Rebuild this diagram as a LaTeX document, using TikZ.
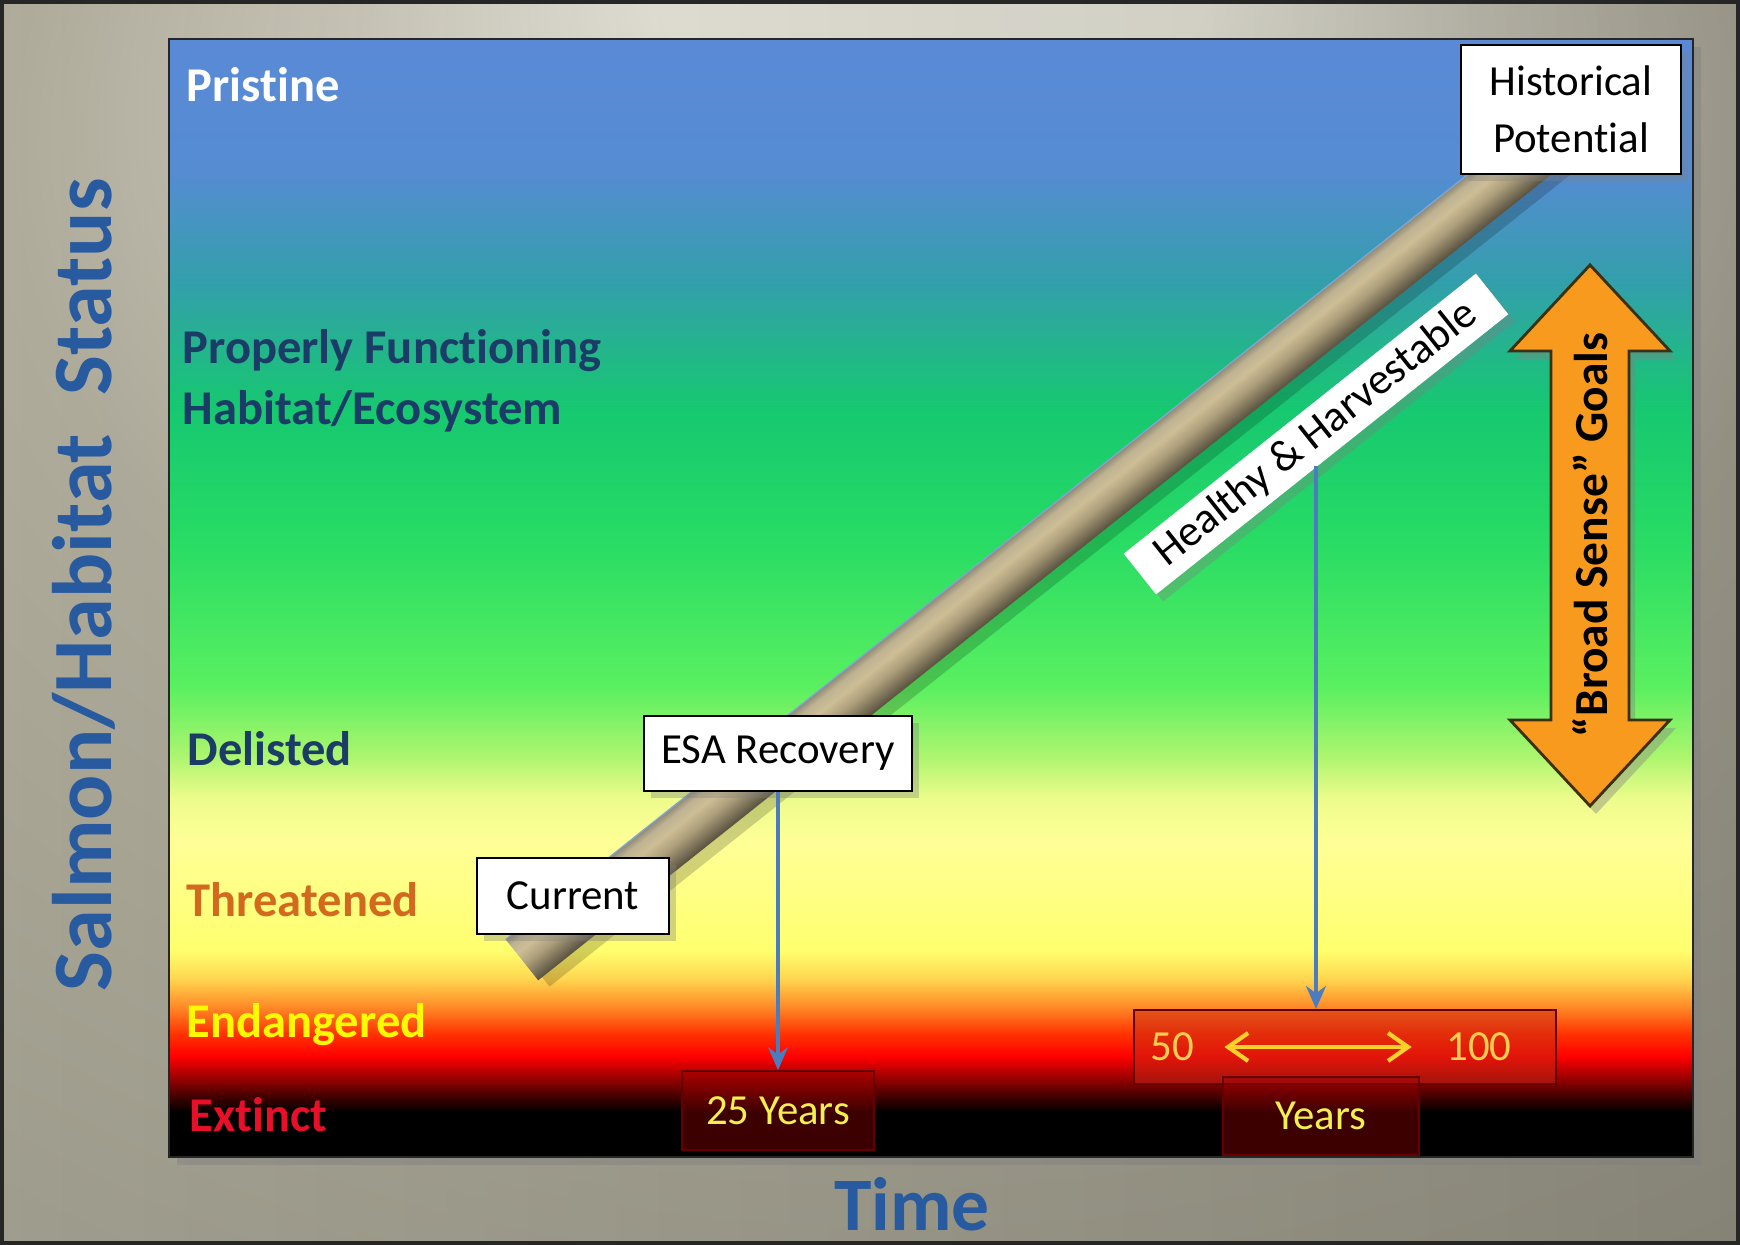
\documentclass[tikz,border=0pt]{standalone}
\usepackage{fontspec}
\setmainfont{Carlito}[Ligatures=CommonOff]
\usetikzlibrary{arrows.meta, shadows, calc, fadings}
\usetikzlibrary{positioning}

% backdrop greys
\definecolor{bgA}{RGB}{236,234,222}
\definecolor{bgB}{RGB}{205,202,188}
\definecolor{bgC}{RGB}{176,172,156}
\definecolor{bgD}{RGB}{160,158,142}
\definecolor{bgE}{RGB}{140,138,124}
% status bands, bottom to top
\definecolor{bandK}{RGB}{0,0,0}
\definecolor{bandDR}{RGB}{70,0,0}
\definecolor{bandR}{RGB}{255,0,0}
\definecolor{bandRO}{RGB}{255,50,0}
\definecolor{bandO}{RGB}{255,140,40}
\definecolor{bandOY}{RGB}{255,215,80}
\definecolor{bandY}{RGB}{255,255,110}
\definecolor{bandPY}{RGB}{255,255,150}
\definecolor{bandYG}{RGB}{238,252,140}
\definecolor{bandLG}{RGB}{170,245,110}
\definecolor{bandBG}{RGB}{90,240,96}
\definecolor{bandG}{RGB}{40,220,100}
\definecolor{bandDG}{RGB}{22,200,112}
\definecolor{bandT}{RGB}{50,160,170}
\definecolor{bandSB}{RGB}{85,140,210}
\definecolor{bandB}{RGB}{90,138,214}
% rod
\definecolor{rodA}{RGB}{88,80,62}
\definecolor{rodB}{RGB}{122,112,88}
\definecolor{rodC}{RGB}{172,158,122}
\definecolor{rodD}{RGB}{205,190,150}
\definecolor{rodE}{RGB}{190,178,146}
\definecolor{rodF}{RGB}{145,138,116}
% text and arrows
\definecolor{navytext}{RGB}{27,60,102}
\definecolor{axisblue}{RGB}{40,90,160}
\definecolor{threatorange}{RGB}{210,105,30}
\definecolor{endyellow}{RGB}{255,250,0}
\definecolor{extinctred}{RGB}{232,16,40}
\definecolor{steel}{RGB}{75,125,190}
\definecolor{goalorange}{RGB}{247,154,30}
\definecolor{goaledge}{RGB}{60,48,16}
\definecolor{yearyellow}{RGB}{242,240,80}
\definecolor{spanyellow}{RGB}{255,208,40}
\definecolor{spannum}{RGB}{255,205,80}

\pgfdeclareradialshading{backdrop}{\pgfpoint{2bp}{30bp}}{color(0bp)=(bgA); color(8bp)=(bgA); color(16bp)=(bgB); color(26bp)=(bgC); color(42bp)=(bgD); color(70bp)=(bgE)}
\pgfdeclareverticalshading{statusbands}{100bp}{color(0bp)=(bandK); color(27bp)=(bandK); color(27.75bp)=(bandDR); color(29.5bp)=(bandR); color(30.5bp)=(bandRO); color(31.75bp)=(bandO); color(33bp)=(bandOY); color(34.25bp)=(bandY); color(39bp)=(bandPY); color(41bp)=(bandYG); color(43bp)=(bandLG); color(46bp)=(bandBG); color(52.5bp)=(bandG); color(58.5bp)=(bandDG); color(64bp)=(bandT); color(69bp)=(bandSB); color(75bp)=(bandB); color(100bp)=(bandB)}
\pgfdeclareverticalshading{rodshade}{100bp}{color(0bp)=(rodA); color(25bp)=(rodA); color(33bp)=(rodB); color(45bp)=(rodC); color(58bp)=(rodD); color(68bp)=(rodE); color(75bp)=(rodF); color(100bp)=(rodF)}
\tikzfading[name=darkright, left color=transparent!100, right color=transparent!0]

\tikzset{
	level/.style={anchor=base west, inner sep=0pt, font=\fontsize{13.8}{16}\selectfont\bfseries},
	tagbox/.style={draw=black, line width=0.6pt, fill=white, inner sep=0pt, font=\fontsize{12.2}{16.2}\selectfont, drop shadow={opacity=0.35, shadow xshift=0.7mm, shadow yshift=-0.7mm}},
	yearbox/.style={draw=black!60!red, line width=0.5pt, fill=red!60!black, fill opacity=0.4, text opacity=1, text=yearyellow, font=\fontsize{12.2}{15}\selectfont},
	spanbox/.style={draw=black!60!red, line width=0.6pt, fill={rgb,255:red,200;green,40;blue,20}, fill opacity=0.5},
	spannumber/.style={inner sep=0pt, text=spannum, font=\fontsize{12.2}{15}\selectfont},
	bluearrow/.style={draw=steel, line width=0.9pt, -{Stealth[length=2.3mm, width=2mm]}},
	spanarrow/.style={draw=spanyellow, line width=1.2pt, {Straight Barb[length=2mm, width=2.8mm]}-{Straight Barb[length=2mm, width=2.8mm]}},
	goalarrow/.style={fill=goalorange, draw=goaledge, line width=0.8pt, line join=miter, drop shadow={opacity=0.4, shadow xshift=0.6mm, shadow yshift=-0.8mm}},
	axislabel/.style={inner sep=0pt, text=axisblue, font=\fontsize{24}{28}\selectfont\bfseries}
}

\begin{document}
\begin{tikzpicture}
	\useasboundingbox (0,0) rectangle (17.4,12.45);

	% backdrop and status panel
	\shade[shading=backdrop] (0,0) rectangle (17.4,12.45);
	\fill[black, opacity=0.16, path fading=darkright] (0,0) rectangle (17.4,12.45);
	\draw[black!85, line width=1.2pt] (0.02,0.02) rectangle (17.38,12.43);
	\shadedraw[shading=statusbands, draw=black!85, line width=0.8pt, drop shadow={opacity=0.45, shadow xshift=0.8mm, shadow yshift=-0.8mm}] (1.69,0.88) rectangle (16.93,12.06);

	% status levels
	\node[level, text=white] at (1.86,11.43) (pristine) {Pristine};
	\node[level, text=navytext] at (1.82,8.81) (proper) {Properly Functioning};
	\node[level, text=navytext] at (1.82,8.20) (habitat) {Habitat/Ecosystem};
	\node[level, text=navytext] at (1.87,4.79) (delisted) {Delisted};
	\node[level, text=threatorange] at (1.86,3.28) (threat) {Threatened};
	\node[level, text=endyellow] at (1.86,2.07) (endang) {Endangered};
	\node[level, text=extinctred] at (1.89,1.13) (extinct) {Extinct};

	% recovery rod
	\begin{scope}[transform canvas={shift={(5.22,2.85)}, rotate=38.5}]
		\fill[black, opacity=0.18] (0.05,-0.26) rectangle (13.5,-0.38);
		\shade[shading=rodshade] (0,-0.26) rectangle (13.5,0.26);
		\draw[steel!70, line width=0.4pt] (0,0.26) -- (13.5,0.26);
	\end{scope}

	\node[tagbox, draw=none, rotate=38.5, minimum width=4.5cm, minimum height=0.52cm, font=\fontsize{12.5}{15}\selectfont] at (13.16,8.11) (hh) {Healthy \& Harvestable};

	% time boxes
	\node[yearbox, minimum width=1.92cm, minimum height=0.79cm] at (7.78,1.345) (yr25) {25 Years};
	\node[spanbox, minimum width=4.22cm, minimum height=0.74cm] at (13.45,1.98) (span) {};
	\node[yearbox, minimum width=1.96cm, minimum height=0.78cm] at (13.21,1.29) (yrs) {Years};
	\node[spannumber] at (11.72,1.98) (fifty) {50};
	\node[spannumber] at (14.79,1.98) (hundred) {100};

	% labelled points on the rod
	\node[tagbox, minimum width=1.92cm, minimum height=0.76cm] at (5.73,3.49) (cur) {Current};
	\node[tagbox, minimum width=2.68cm, minimum height=0.75cm] at (7.78,4.915) (esa) {ESA Recovery};
	\node[tagbox, minimum width=2.20cm, minimum height=1.29cm, align=center] at (15.71,11.355) (hist) {Historical\\Potential};

	%Lines
	\draw[bluearrow] (esa.south) -- (yr25.north);
	\draw[bluearrow, shorten <=3.2mm] (hh.center) -- (hh.center |- span.north);
	\draw[spanarrow, shorten <=3mm, shorten >=3.4mm] (fifty) -- (hundred);

	% goals arrow
	\filldraw[goalarrow] (15.90,9.80) -- (16.70,8.94) -- (16.29,8.94) -- (16.29,5.25) -- (16.70,5.25) -- (15.90,4.39) -- (15.10,5.25) -- (15.51,5.25) -- (15.51,8.94) -- (15.10,8.94) -- cycle;
	\node[rotate=90, inner sep=0pt, font=\fontsize{13.5}{16}\selectfont\bfseries] at (15.90,7.10) (goals) {“Broad Sense” Goals};

	% axes
	\node[axislabel, rotate=90, anchor=base] at (1.11,6.60) (ylab) {Salmon/Habitat~~Status};
	\node[axislabel, anchor=base, font=\fontsize{21.5}{26}\selectfont\bfseries] at (9.12,0.14) (tlab) {Time};
\end{tikzpicture}
\end{document}
